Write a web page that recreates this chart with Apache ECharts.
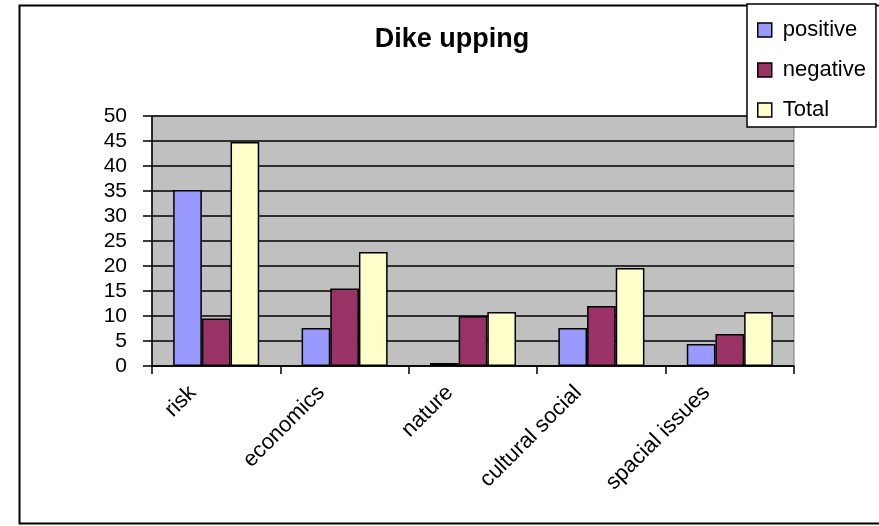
<!DOCTYPE html>
<html>
<head>
<meta charset="utf-8">
<script src="https://cdn.jsdelivr.net/npm/echarts@6/dist/echarts.min.js"></script>
<style>
  html, body { margin: 0; padding: 0; background: #fff; }
  #chart { width: 879px; height: 526px; }
</style>
</head>
<body>
<div id="chart"></div>
<script>
var categories = ['risk', 'economics', 'nature', 'cultural social', 'spacial issues'];
var positive = [35.2, 7.6, 0.6, 7.6, 4.4];
var negative = [9.5, 15.5, 10, 12, 6.4];
var total = [44.8, 22.8, 10.8, 19.6, 10.8];
var seriesNames = ['positive', 'negative', 'Total'];
var seriesColors = ['#9999FF', '#993366', '#FFFFCC'];

var font = 'Liberation Sans, Arial, sans-serif';
var chart = echarts.init(document.getElementById('chart'));

function barSeries(i, data) {
  return {
    name: seriesNames[i],
    type: 'bar',
    data: data,
    barGap: 0,
    barCategoryGap: '33%',
    itemStyle: { color: seriesColors[i], borderColor: '#000', borderWidth: 1.5 }
  };
}

var option = {
  animation: false,
  textStyle: { fontFamily: font },
  graphic: [
    {
      type: 'rect',
      shape: { x: 19.5, y: 5.5, width: 880, height: 518 },
      style: { fill: 'none', stroke: '#000', lineWidth: 2 },
      z: -1
    },
    {
      type: 'text',
      x: 452, y: 40,
      style: {
        text: 'Dike upping',
        font: 'bold 27px ' + font,
        fill: '#000',
        textAlign: 'center',
        textVerticalAlign: 'middle'
      }
    }
  ],
  legend: {
    orient: 'vertical',
    left: 747,
    top: 4,
    backgroundColor: '#fff',
    borderColor: '#000',
    borderWidth: 1.5,
    padding: [15, 10, 6, 10],
    itemWidth: 14,
    itemHeight: 14,
    itemGap: 18,
    icon: 'rect',
    itemStyle: { borderColor: '#000', borderWidth: 1.5 },
    textStyle: { fontSize: 22, color: '#000', fontFamily: font, padding: [0, 0, 0, 6] },
    data: seriesNames
  },
  grid: {
    left: 152, top: 116, right: 85, bottom: 160,
    show: true,
    backgroundColor: '#C0C0C0',
    borderColor: '#808080',
    borderWidth: 1
  },
  xAxis: {
    type: 'category',
    data: categories,
    axisLine: { lineStyle: { color: '#000', width: 1.5 } },
    axisTick: { show: true, length: 8, lineStyle: { color: '#000', width: 1.5 } },
    axisLabel: {
      rotate: 45, fontSize: 22, color: '#000', margin: 0, interval: 0,
      // trailing spacer pushes the label end left of the category centre
      formatter: function (v) { return '{t|' + v + '}{s| }'; },
      rich: {
        t: { fontSize: 22, color: '#000', fontFamily: font },
        s: { width: 33, fontSize: 22 }
      }
    }
  },
  yAxis: {
    type: 'value',
    min: 0, max: 50, interval: 5,
    axisLine: { show: true, lineStyle: { color: '#000', width: 1.5 } },
    axisTick: { show: true, length: 9, lineStyle: { color: '#000', width: 1.5 } },
    axisLabel: { fontSize: 21, color: '#000', margin: 25 },
    splitLine: { lineStyle: { color: '#000', width: 1.5 } }
  },
  series: [
    barSeries(0, positive),
    barSeries(1, negative),
    barSeries(2, total)
  ]
};

chart.setOption(option);
</script>
</body>
</html>
